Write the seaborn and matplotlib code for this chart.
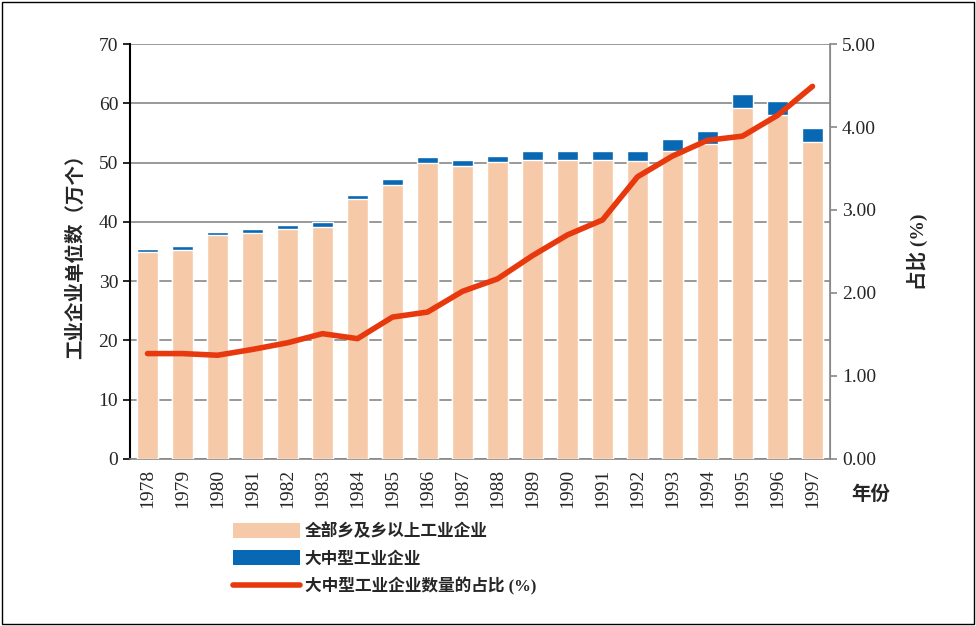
import numpy as np
import pandas as pd
import matplotlib
matplotlib.use("Agg")
import matplotlib.pyplot as plt
import seaborn as sns
from matplotlib.patches import Patch
from matplotlib.lines import Line2D

years = [str(y) for y in range(1978, 1998)]
# 全部乡及乡以上工业企业 (top of stacked bar = total), 大中型 part on top
township = [34.9, 35.3, 37.7, 38.2, 38.8, 39.2, 43.8, 46.3, 50.0, 49.4,
            50.1, 50.5, 50.5, 50.5, 50.2, 52.0, 53.2, 59.2, 58.0, 53.5]
total = [35.4, 35.9, 38.3, 38.8, 39.5, 39.9, 44.5, 47.2, 50.9, 50.4,
         51.1, 51.9, 51.9, 52.0, 52.0, 54.0, 55.3, 61.6, 60.4, 55.9]
share = [1.27, 1.27, 1.25, 1.32, 1.40, 1.51, 1.45, 1.71, 1.77, 2.02,
         2.17, 2.45, 2.70, 2.88, 3.40, 3.65, 3.84, 3.89, 4.14, 4.49]

df = pd.DataFrame({"year": years, "township": township, "total": total, "share": share})

sns.set_style("white")
plt.rcParams['font.family'] = ['Liberation Serif', 'Noto Sans CJK SC', 'DejaVu Sans']

peach = "#F6C9A8"
blue = "#0868B4"
red = "#E8380D"

fig = plt.figure(figsize=(9.76, 6.26), dpi=100)
ax = fig.add_axes([0.1332, 0.2668, 0.7172, 0.6629])

sns.barplot(data=df, x="year", y="total", color=blue, width=0.6, saturation=1, ax=ax, zorder=2)
sns.barplot(data=df, x="year", y="township", color=peach, width=0.6, saturation=1, ax=ax, zorder=3)

ax.set_ylim(0, 70)
ax.set_xlim(-0.5, 19.5)
ax.set_yticks(range(0, 71, 10))
ax.yaxis.grid(True, color="#888888", linewidth=1.2, zorder=0)
ax.set_axisbelow(True)
ax.set_xlabel("")
ax.set_ylabel("工业企业单位数（万个）", fontsize=14, fontweight="bold", labelpad=10)
ax.tick_params(axis="y", labelsize=14, left=True, length=5, width=1.2, color="black")
ax.tick_params(axis="x", labelsize=14, rotation=90, bottom=False)
ax.spines["top"].set_visible(False)
ax.spines["left"].set_color("black")
ax.spines["left"].set_linewidth(1.5)
ax.spines["bottom"].set_color("#888888")
ax.spines["bottom"].set_linewidth(1.2)
ax.spines["right"].set_color("#888888")

ax2 = ax.twinx()
sns.lineplot(x=np.arange(len(years)), y=df["share"], color=red, linewidth=4, ax=ax2,
             solid_capstyle="round", zorder=5)
ax2.set_ylim(0, 5)
ax2.set_yticks(np.arange(0, 5.01, 1))
ax2.set_yticklabels([f"{v:.2f}" for v in np.arange(0, 5.01, 1)])
ax2.tick_params(axis="y", labelsize=14, right=True, length=5, width=1.2, color="#888888")
ax2.set_ylabel("占比 (%)", fontsize=14, fontweight="bold", rotation=90, labelpad=22)
ax2.set_xlim(-0.5, 19.5)
ax2.spines["top"].set_visible(False)
ax2.spines["left"].set_visible(False)
ax2.spines["bottom"].set_visible(False)
ax2.spines["right"].set_color("#888888")
ax2.spines["right"].set_linewidth(1.2)

fig.text(0.892, 0.21, "年份", fontsize=14, fontweight="bold", ha="center", va="center")

handles = [Patch(facecolor=peach, edgecolor="none"),
           Patch(facecolor=blue, edgecolor="none"),
           Line2D([0], [0], color=red, linewidth=4, solid_capstyle="round")]
labels = ["全部乡及乡以上工业企业", "大中型工业企业", "大中型工业企业数量的占比 (%)"]
fig.legend(handles, labels, loc="upper left", bbox_to_anchor=(0.232, 0.175),
           frameon=False, prop={"size": 12, "weight": "bold"}, handlelength=4.0,
           handleheight=1.0, labelspacing=0.6, handletextpad=0.3, borderaxespad=0)

fig.patches.append(plt.Rectangle((0.002, 0.003), 0.996, 0.994, transform=fig.transFigure,
                                 fill=False, edgecolor="black", linewidth=1))
fig.savefig("out.png", dpi=100)
